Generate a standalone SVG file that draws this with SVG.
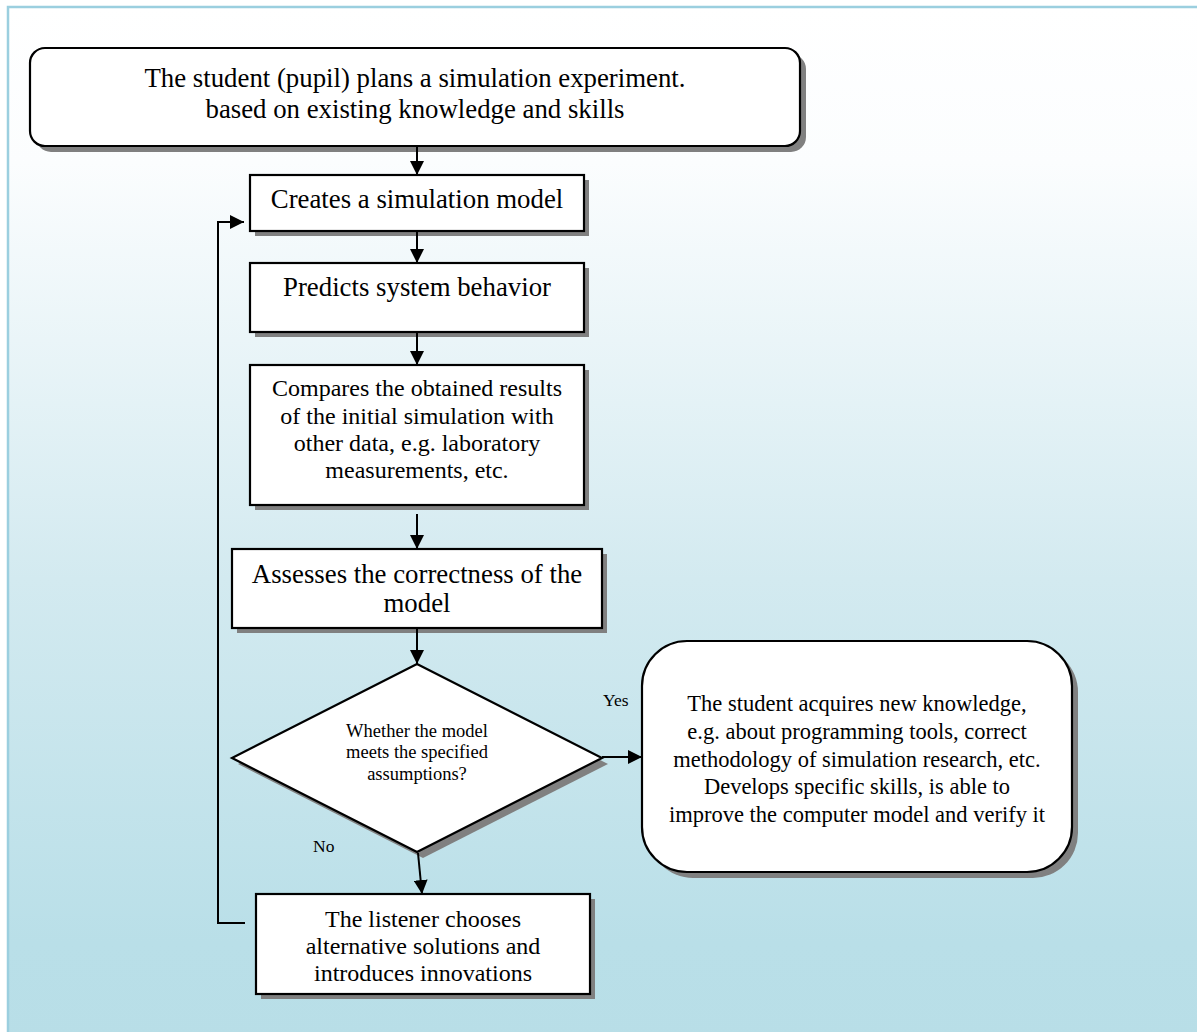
<svg xmlns="http://www.w3.org/2000/svg" width="1197" height="1032" viewBox="0 0 1197 1032">
<defs>
<linearGradient id="bg" x1="0" y1="0" x2="0" y2="1">
<stop offset="0" stop-color="#ffffff"/>
<stop offset="0.15" stop-color="#fbfdfe"/>
<stop offset="0.55" stop-color="#d3eaf0"/>
<stop offset="0.9" stop-color="#b9dfe8"/>
<stop offset="1" stop-color="#b8dee7"/>
</linearGradient>
<marker id="arr" markerUnits="userSpaceOnUse" markerWidth="14" markerHeight="14" refX="14" refY="7" orient="auto">
<path d="M0,0 L14,7 L0,14 Z" fill="#000"/>
</marker>
<style>
.box{fill:#fff;stroke:#000;stroke-width:2.2}
.sh{fill:#808080}
.big{font-size:26.8px;text-anchor:middle}
.mid{font-size:24px;text-anchor:middle}
.res{font-size:22.5px;text-anchor:middle}
.small{font-size:18.5px;text-anchor:middle}
.lbl{font-size:17.5px}
.c{fill:none;stroke:#000;stroke-width:2}
</style>
</defs>
<rect x="8" y="7" width="1200" height="1040" fill="url(#bg)" stroke="#9bcfdf" stroke-width="2.5"/>

<g font-family="'Liberation Serif', 'Times New Roman', serif" fill="#000">
<g id="start">
<rect class="sh" x="36" y="54" width="770" height="98" rx="15"/>
<rect class="box" x="30" y="48" width="770" height="98" rx="15"/>
<text class="big" x="415" y="87">The student (pupil) plans a simulation experiment.</text>
<text class="big" x="415" y="118">based on existing knowledge and skills</text>
</g>

<g id="create">
<rect class="sh" x="255" y="180" width="334" height="56"/>
<rect class="box" x="250" y="175" width="334" height="56"/>
<text class="big" x="417" y="208">Creates a simulation model</text>
</g>

<g id="predict">
<rect class="sh" x="255" y="268" width="334" height="69"/>
<rect class="box" x="250" y="263" width="334" height="69"/>
<text class="big" x="417" y="296">Predicts system behavior</text>
</g>

<g id="compare">
<rect class="sh" x="255" y="370" width="334" height="140"/>
<rect class="box" x="250" y="365" width="334" height="140"/>
<text class="mid" x="417" y="396">Compares the obtained results</text>
<text class="mid" x="417" y="424">of the initial simulation with</text>
<text class="mid" x="417" y="451">other data, e.g. laboratory</text>
<text class="mid" x="417" y="478">measurements, etc.</text>
</g>

<g id="assess">
<rect class="sh" x="237" y="554" width="370" height="79"/>
<rect class="box" x="232" y="549" width="370" height="79"/>
<text class="big" x="417" y="583">Assesses the correctness of the</text>
<text class="big" x="417" y="612">model</text>
</g>

<g id="decision">
<polygon class="sh" points="423,670 608,764 423,858 238,764"/>
<polygon class="box" points="417,664 602,758 417,852 232,758"/>
<text class="small" x="417" y="737">Whether the model</text>
<text class="small" x="417" y="758">meets the specified</text>
<text class="small" x="417" y="780">assumptions?</text>
</g>

<g id="result">
<rect class="sh" x="648" y="647" width="430" height="231" rx="45"/>
<rect class="box" x="642" y="641" width="430" height="231" rx="45"/>
<text class="res" x="857" y="711">The student acquires new knowledge,</text>
<text class="res" x="857" y="739">e.g. about programming tools, correct</text>
<text class="res" x="857" y="767">methodology of simulation research, etc.</text>
<text class="res" x="857" y="794">Develops specific skills, is able to</text>
<text class="res" x="857" y="822">improve the computer model and verify it</text>
</g>

<g id="alternative">
<rect class="sh" x="261" y="899" width="334" height="100"/>
<rect class="box" x="256" y="894" width="334" height="100"/>
<text class="mid" x="423" y="927">The listener chooses</text>
<text class="mid" x="423" y="954">alternative solutions and</text>
<text class="mid" x="423" y="981">introduces innovations</text>
</g>

<g id="connectors">
<line class="c" x1="417" y1="147" x2="417" y2="175" marker-end="url(#arr)"/>
<line class="c" x1="417" y1="232" x2="417" y2="263" marker-end="url(#arr)"/>
<line class="c" x1="417" y1="333" x2="417" y2="365" marker-end="url(#arr)"/>
<line class="c" x1="417" y1="514" x2="417" y2="549" marker-end="url(#arr)"/>
<line class="c" x1="417" y1="629" x2="417" y2="664" marker-end="url(#arr)"/>
<line class="c" x1="602" y1="757" x2="642" y2="757" marker-end="url(#arr)"/>
<line class="c" x1="418" y1="853" x2="422" y2="894" marker-end="url(#arr)"/>
<polyline class="c" points="245,923 218,923 218,222 244,222" marker-end="url(#arr)"/>
<text class="lbl" x="603" y="706">Yes</text>
<text class="lbl" x="313" y="852">No</text>
</g>
</g>
</svg>
